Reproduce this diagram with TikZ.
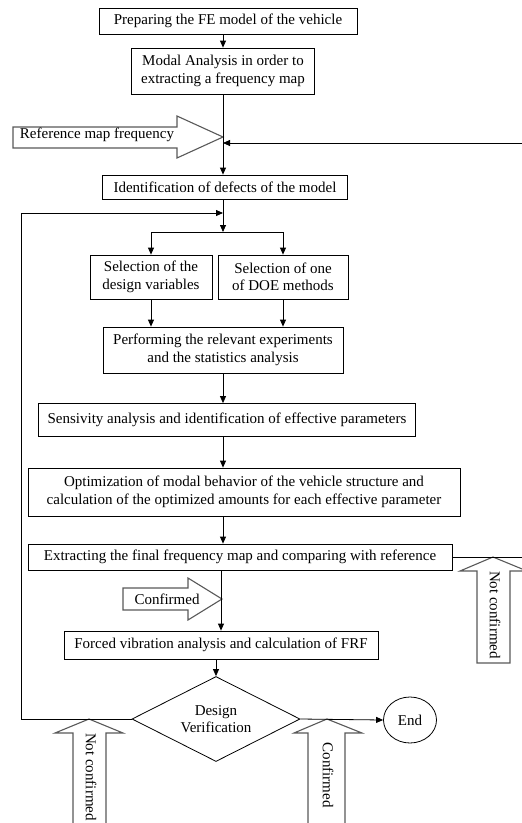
\documentclass[tikz,border=0pt]{standalone}
\usepackage{fontspec}
\setmainfont{Liberation Serif}
\usetikzlibrary{arrows.meta,shapes.geometric}

\begin{document}
\begin{tikzpicture}[x=1pt,y=-1pt,
  proc/.style={draw,line width=0.8pt,align=center,inner sep=2pt,
    font=\fontsize{15}{17.5}\selectfont},
  decide/.style={proc,diamond,aspect=2,minimum width=168pt,minimum height=85pt},
  term/.style={proc,ellipse,inner sep=0pt,minimum width=53pt,minimum height=46pt},
  hollow/.style={draw=black!65,line width=1.1pt,fill=white},
  lbl/.style={font=\fontsize{15}{17.5}\selectfont,inner sep=0pt},
  arr/.style={-{Triangle[length=7pt,width=6pt]},line width=0.8pt}]
  \useasboundingbox (0,0) rectangle (522,823);
  \clip (0,0) rectangle (522,823);
  \node[proc,minimum width=258pt,minimum height=26pt] (prep) at (228,21) {Preparing the FE model of the vehicle};
  \node[proc,minimum width=183pt,minimum height=46pt] (modal) at (223,71) {Modal Analysis in order to\\extracting a frequency map};
  \node[proc,minimum width=245pt,minimum height=24pt] (ident) at (225,187) {Identification of defects of the model};
  \node[proc,minimum width=122pt,minimum height=44pt] (selvar) at (151,277) {Selection of the\\design variables};
  \node[proc,minimum width=130pt,minimum height=44pt] (seldoe) at (283,277) {Selection of one\\of DOE methods};
  \node[proc,minimum width=240pt,minimum height=46pt] (perf) at (223,350) {Performing the relevant experiments\\and the statistics analysis};
  \node[proc,minimum width=377pt,minimum height=33pt] (sens) at (227,420) {Sensivity analysis and identification of effective parameters};
  \node[proc,minimum width=432pt,minimum height=48pt] (optim) at (244,492) {Optimization of modal behavior of the vehicle structure and\\calculation of the optimized amounts for each effective parameter};
  \node[proc,minimum width=424pt,minimum height=26pt] (extract) at (240,557) {Extracting the final frequency map and comparing with reference};
  \node[proc,minimum width=314pt,minimum height=28pt] (forced) at (221,645) {Forced vibration analysis and calculation of FRF};
  \node[decide] (check) at (216,719) {Design\\Verification};
  \node[term] (done) at (410,720) {End};
  \coordinate (refin) at (223,143);
  \coordinate (loopin) at (223,213);
  \coordinate (split) at (223,232);
  % hollow arrows
  \draw[hollow] (13,127) -- (177,127) -- (177,116) -- (223,137) -- (177,158) -- (177,148) -- (13,148) -- cycle;
  \node[lbl] (refmap) at (97,135) {Reference map frequency};
  \draw[hollow] (123,588) -- (188,588) -- (188,578) -- (222,599) -- (188,620) -- (188,610) -- (123,610) -- cycle;
  \node[lbl] (conf1) at (167,599) {Confirmed};
  \draw[hollow] (493,557) -- (527,571) -- (510,571) -- (510,663) -- (477,663) -- (477,571) -- (460,571) -- cycle;
  \node[lbl,rotate=-90] (nconf1) at (495,615) {Not confirmed};
  \draw[hollow] (89,719) -- (123,733) -- (106,733) -- (106,830) -- (73,830) -- (73,733) -- (55,733) -- cycle;
  \node[lbl,rotate=-90] (nconf2) at (91,777) {Not confirmed};
  \draw[hollow] (327,719) -- (362,733) -- (345,733) -- (345,830) -- (308,830) -- (308,733) -- (294,733) -- cycle;
  \node[lbl,rotate=-90] (conf2) at (328,775) {Confirmed};
  % connectors
  \draw[arr] (prep.south -| modal) -- (modal.north);
  \draw[arr] (modal) -- (modal |- ident.north);
  \draw[arr] (extract.east) -- ++(72,0) |- (refin);
  \draw[arr] (ident.south -| split) -- (split);
  \draw[arr] (check.west) -- ++(-110,0) |- (loopin);
  \draw[arr] (split) -| (selvar.north);
  \draw[arr] (split) -| (seldoe.north);
  \draw[arr] (selvar) -- (selvar |- perf.north);
  \draw[arr] (seldoe) -- (seldoe |- perf.north);
  \draw[arr] (perf) -- (perf |- sens.north);
  \draw[arr] (sens.south -| perf) -- (optim.north -| perf);
  \draw[arr] (optim.south -| perf) -- (extract.north -| perf);
  \draw[arr] (extract.south -| forced) -- (forced.north);
  \draw[arr] (forced.south -| check) -- (check.north);
  \draw[arr] (check.east) -- (done.west);
\end{tikzpicture}
\end{document}
